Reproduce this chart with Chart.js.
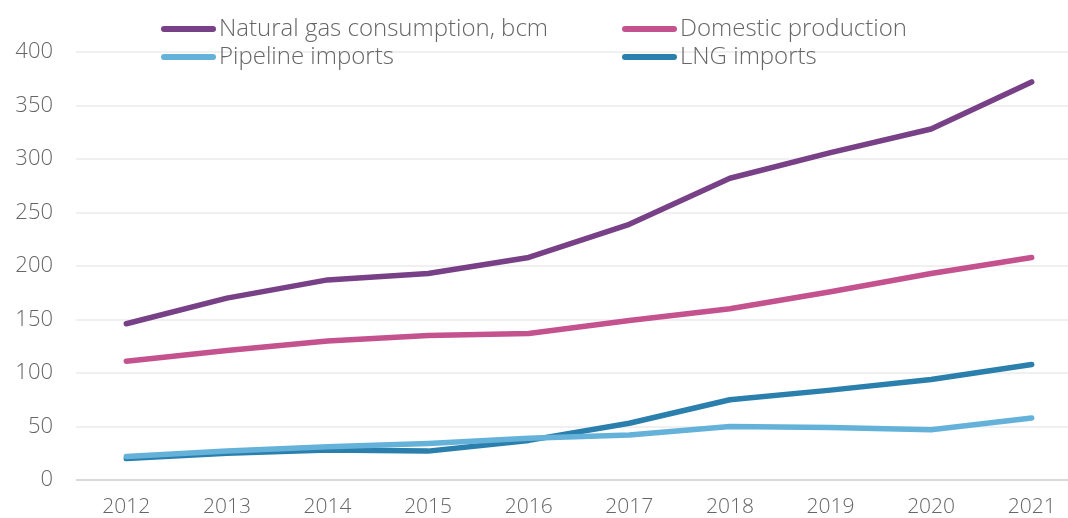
<!DOCTYPE html>
<html>
<head>
<meta charset="utf-8">
<script src="https://cdn.jsdelivr.net/npm/chart.js@4/dist/chart.umd.min.js"></script>
<style>
  html, body { margin: 0; padding: 0; background: #fff; overflow: hidden; }
  #wrap { width: 1082px; height: 518px; }
</style>
</head>
<body>
<div id="wrap"><canvas id="chart" width="1082" height="518"></canvas></div>
<script>
const years = ["2012", "2013", "2014", "2015", "2016", "2017", "2018", "2019", "2020", "2021"];
const consumption = [146, 170, 187, 193, 208, 239, 282, 306, 328, 372];
const domestic = [111, 121, 130, 135, 137, 149, 160, 176, 193, 208];
const pipeline = [22, 27, 31, 34, 39, 42, 50, 49, 47, 58];
const lng = [20, 25, 28, 27, 37, 53, 75, 84, 94, 108];
const yTicks = [0, 50, 100, 150, 200, 250, 300, 350, 400];

const seriesNames = ["Natural gas consumption, bcm", "Domestic production", "Pipeline imports", "LNG imports"];
const seriesColors = ["#784187", "#C4528F", "#64B2DA", "#2B7FAC"];
const seriesData = [consumption, domestic, pipeline, lng];

const fontFamily = "'Open Sans', 'Noto Sans', sans-serif";

// legend drawn in two columns above the plot, like the original
const legendPlugin = {
    id: "twoColLegend",
    afterDraw(chart) {
        const ctx = chart.ctx;
        const cols = [161, 622];
        const rows = [29, 57];
        ctx.save();
        ctx.font = "300 24px " + fontFamily;
        ctx.textBaseline = "middle";
        chart.data.datasets.forEach((ds, i) => {
            const x = cols[i % 2];
            const y = rows[Math.floor(i / 2)];
            ctx.strokeStyle = ds.borderColor;
            ctx.lineWidth = 6;
            ctx.lineCap = "round";
            ctx.beginPath();
            ctx.moveTo(x + 3, y);
            ctx.lineTo(x + 52, y);
            ctx.stroke();
            ctx.fillStyle = "#666666";
            ctx.fillText(ds.label, x + 58, y);
        });
        ctx.restore();
    }
};

new Chart(document.getElementById("chart"), {
    type: "line",
    data: {
        labels: years,
        datasets: seriesData.map((d, i) => ({
            label: seriesNames[i],
            data: d,
            borderColor: seriesColors[i],
            backgroundColor: seriesColors[i],
            borderWidth: 5.5,
            borderCapStyle: "round",
            borderJoinStyle: "round",
            pointRadius: 0,
            tension: 0
        }))
    },
    options: {
        responsive: false,
        animation: false,
        layout: { padding: { top: 52, right: 0, left: 0, bottom: 0 } },
        plugins: {
            legend: { display: false },
            tooltip: { enabled: false }
        },
        scales: {
            x: {
                offset: true,
                grid: { display: false, drawTicks: false },
                border: { display: false },
                ticks: {
                    color: "#666666",
                    font: { family: fontFamily, size: 21, weight: 300 },
                    padding: 14,
                    maxRotation: 0
                },
                afterFit(scale) { scale.height = 38; }
            },
            y: {
                min: 0,
                max: 400,
                afterBuildTicks(scale) { scale.ticks = yTicks.map(v => ({ value: v })); },
                grid: {
                    color: ctx => ctx.tick && ctx.tick.value === 0 ? "#D9D9D9" : "#F0F0F0",
                    lineWidth: 2,
                    drawTicks: false
                },
                border: { display: false },
                ticks: {
                    color: "#666666",
                    font: { family: fontFamily, size: 22, weight: 300 },
                    padding: 23
                },
                afterFit(scale) { scale.width = 76; }
            }
        }
    },
    plugins: [legendPlugin]
});
</script>
</body>
</html>
